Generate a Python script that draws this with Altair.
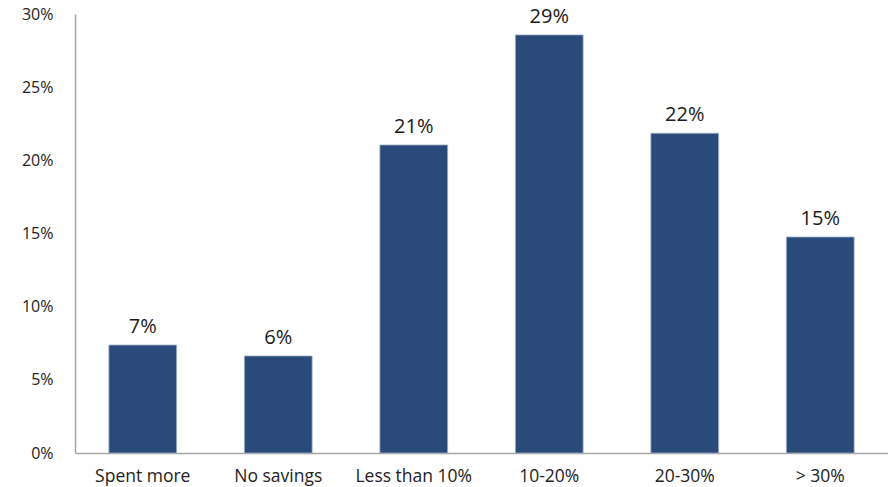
import altair as alt
import pandas as pd

categories = ["Spent more", "No savings", "Less than 10%", "10-20%", "20-30%", "> 30%"]
values = [0.0738, 0.0663, 0.2105, 0.2857, 0.2185, 0.1476]
labels = ["7%", "6%", "21%", "29%", "22%", "15%"]
y_ticks = [0, 0.05, 0.10, 0.15, 0.20, 0.25, 0.30]

df = pd.DataFrame({"cat": categories, "val": values, "lab": labels})

FONT = "Open Sans"

x = alt.X("cat:N", sort=categories, title=None,
          scale=alt.Scale(paddingInner=0.5, paddingOuter=0.25),
          axis=alt.Axis(labelAngle=0, ticks=False, labelPadding=14, labelFontSize=17.5,
                        labelFont=FONT, labelColor="#222222", domainColor="#a6a6a6",
                        domainWidth=1.5))
y = alt.Y("val:Q", title=None,
          scale=alt.Scale(domain=[0, 0.30], nice=False),
          axis=alt.Axis(values=y_ticks, format=".0%", ticks=False, grid=False,
                        labelPadding=22, labelFontSize=16, labelFont=FONT,
                        labelColor="#222222", domainColor="#a6a6a6", domainWidth=1.5))

bars = alt.Chart(df).mark_bar(color="#2A4A7A", stroke="#9fb0c8", strokeWidth=0.8).encode(x=x, y=y)
text = alt.Chart(df).mark_text(dy=-18, fontSize=20, font=FONT, color="#1a1a1a").encode(
    x=alt.X("cat:N", sort=categories), y="val:Q", text="lab:N")

chart = (bars + text).properties(
    width=813, height=439,
    autosize=alt.AutoSizeParams(type="none"),
    padding={"left": 67, "top": 6, "right": 0, "bottom": 40},
).configure_view(stroke=None)

chart.save("out.html", embed_options={"renderer": "svg", "actions": False})
